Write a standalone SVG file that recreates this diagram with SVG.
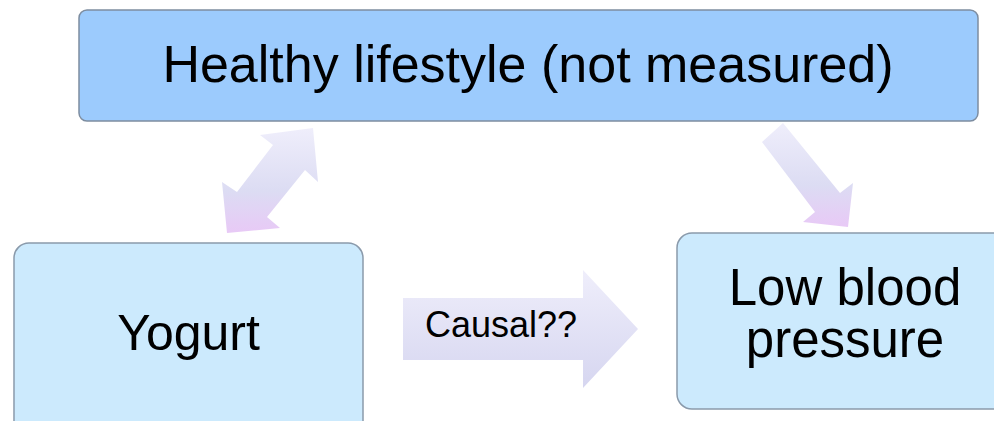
<svg xmlns="http://www.w3.org/2000/svg" width="994" height="421" viewBox="0 0 994 421">
<style>
.lbl{font-family:"Liberation Sans",Arial,sans-serif;fill:#000;text-anchor:middle}
.top{fill:#9ccbfd;stroke:#7d8da0;stroke-width:1.5}
.low{fill:#cceafd;stroke:#8a9aab;stroke-width:1.5}
</style>
<defs>
<linearGradient id="gArrow" x1="0" y1="0" x2="0" y2="1">
<stop offset="0" stop-color="#efeefb"/>
<stop offset="0.6" stop-color="#dcdcf3"/>
<stop offset="1" stop-color="#e8c9f6"/>
</linearGradient>
<linearGradient id="gCausal" x1="0" y1="0" x2="0" y2="1">
<stop offset="0" stop-color="#efeefb"/>
<stop offset="1" stop-color="#d6d6f0"/>
</linearGradient>
</defs>
<rect width="994" height="421" fill="#ffffff"/>
<g id="connectors">
<polygon id="double-arrow" fill="url(#gArrow)" points="313,128 260,135 273,145 237,192 222,182 227,233 280,228 267,217 305,170 318,182"/>
<polygon id="down-arrow" fill="url(#gArrow)" points="783,123 840,193 853,183 848,227 803,222 815,212 762,142"/>
<g id="causal-arrow">
<polygon fill="url(#gCausal)" points="403,298 583,298 583,270 638,329 583,388 583,360 403,360"/>
<text class="lbl" x="501" y="337" font-size="36">Causal??</text>
</g>
</g>
<g id="node-lifestyle">
<rect class="top" x="79" y="10" width="899" height="111" rx="8"/>
<text class="lbl" x="528" y="82" font-size="52">Healthy lifestyle (not measured)</text>
</g>
<g id="node-yogurt">
<rect class="low" x="14" y="243" width="349" height="200" rx="15"/>
<text class="lbl" x="188.5" y="350" font-size="50">Yogurt</text>
</g>
<g id="node-bp">
<rect class="low" x="677" y="233" width="340" height="176" rx="15"/>
<text class="lbl" x="845" y="305" font-size="51">Low blood</text>
<text class="lbl" x="845" y="357" font-size="51">pressure</text>
</g>
</svg>
